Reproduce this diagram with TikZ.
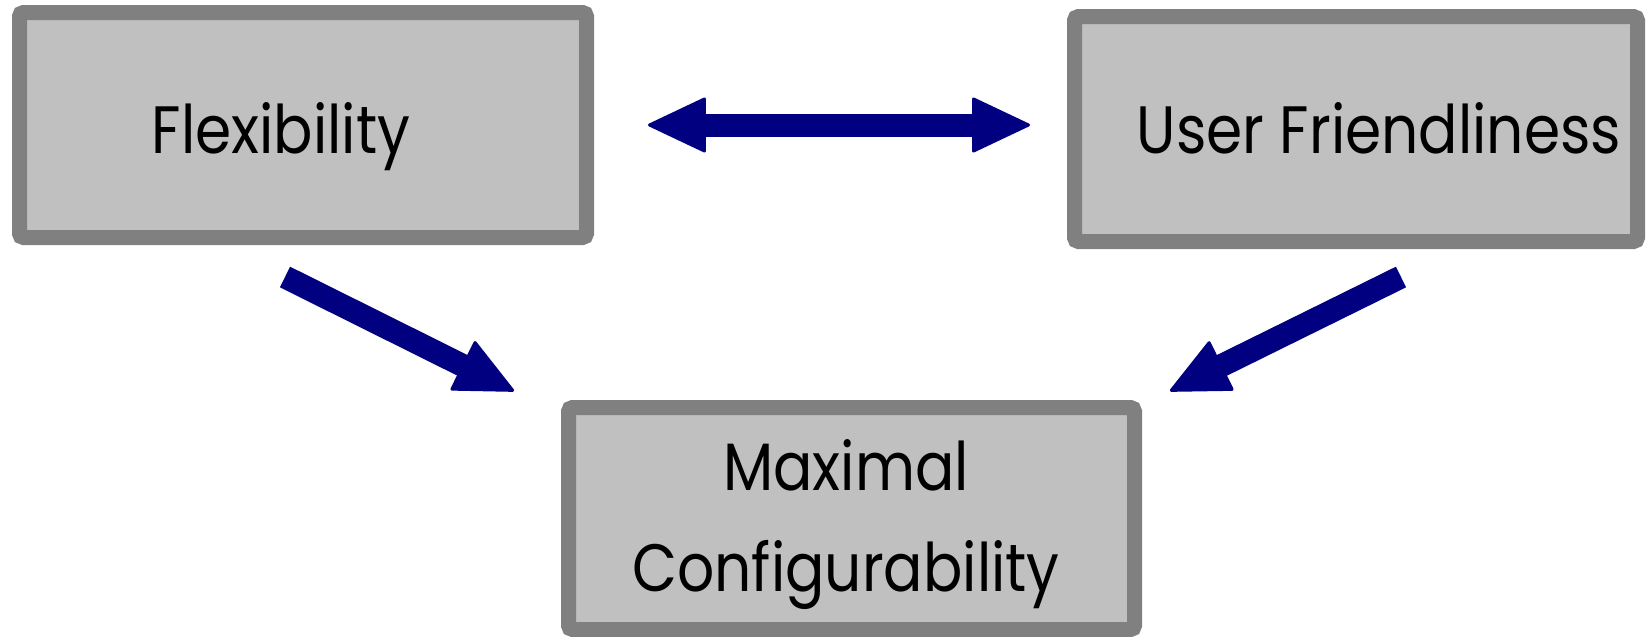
\documentclass[tikz,border=0pt]{standalone}
\usepackage{fontspec}
\setmainfont{Poppins}[FakeStretch=0.87]
\usetikzlibrary{arrows.meta}
\definecolor{boxfill}{HTML}{C0C0C0}
\definecolor{boxline}{HTML}{808080}
\definecolor{arrowblue}{HTML}{000080}
\begin{document}
\begin{tikzpicture}[x=0.5pt,y=-0.5pt,
  box/.style={draw=boxline, fill=boxfill, line width=7.5pt, rounded corners=2pt, inner sep=0pt},
  lbl/.style={anchor=base, font=\fontsize{33.5}{40}\selectfont, text=black, inner sep=0pt},
  headtip/.tip={Triangle[width=28pt,length=30pt,round,line width=1.5pt]},
  bigarrow/.style={draw=arrowblue, line width=11.5pt}]
\useasboundingbox (0,0) rectangle (1646,637);

% boxes
\node[box, minimum width=283.5pt, minimum height=112.5pt] (flex) at (303,125) {};
\node[box, minimum width=281.5pt, minimum height=112.5pt] (user) at (1356,129) {};
\node[box, minimum width=283pt, minimum height=111pt] (maxconf) at (851.5,518.5) {};

% labels
\node[lbl] (flextxt) at (281,153) {Flexibility};
\node[lbl] (usertxt) at (1379,153) {User Friendliness};
\node[lbl] (maxtxt) at (846,490) {Maximal};
\node[lbl] (conftxt) at (846,591) {Configurability};

% arrow end points
\coordinate (tradeL) at (648,125);
\coordinate (tradeR) at (1030,125);
\coordinate (flexout) at (285,277);
\coordinate (flexin) at (514,391);
\coordinate (userout) at (1401,277);
\coordinate (userin) at (1170,391);

% arrows
\draw[bigarrow, headtip-headtip] (tradeL) -- (tradeR);
\draw[bigarrow, -headtip] (flexout) -- (flexin);
\draw[bigarrow, -headtip] (userout) -- (userin);
\end{tikzpicture}
\end{document}
